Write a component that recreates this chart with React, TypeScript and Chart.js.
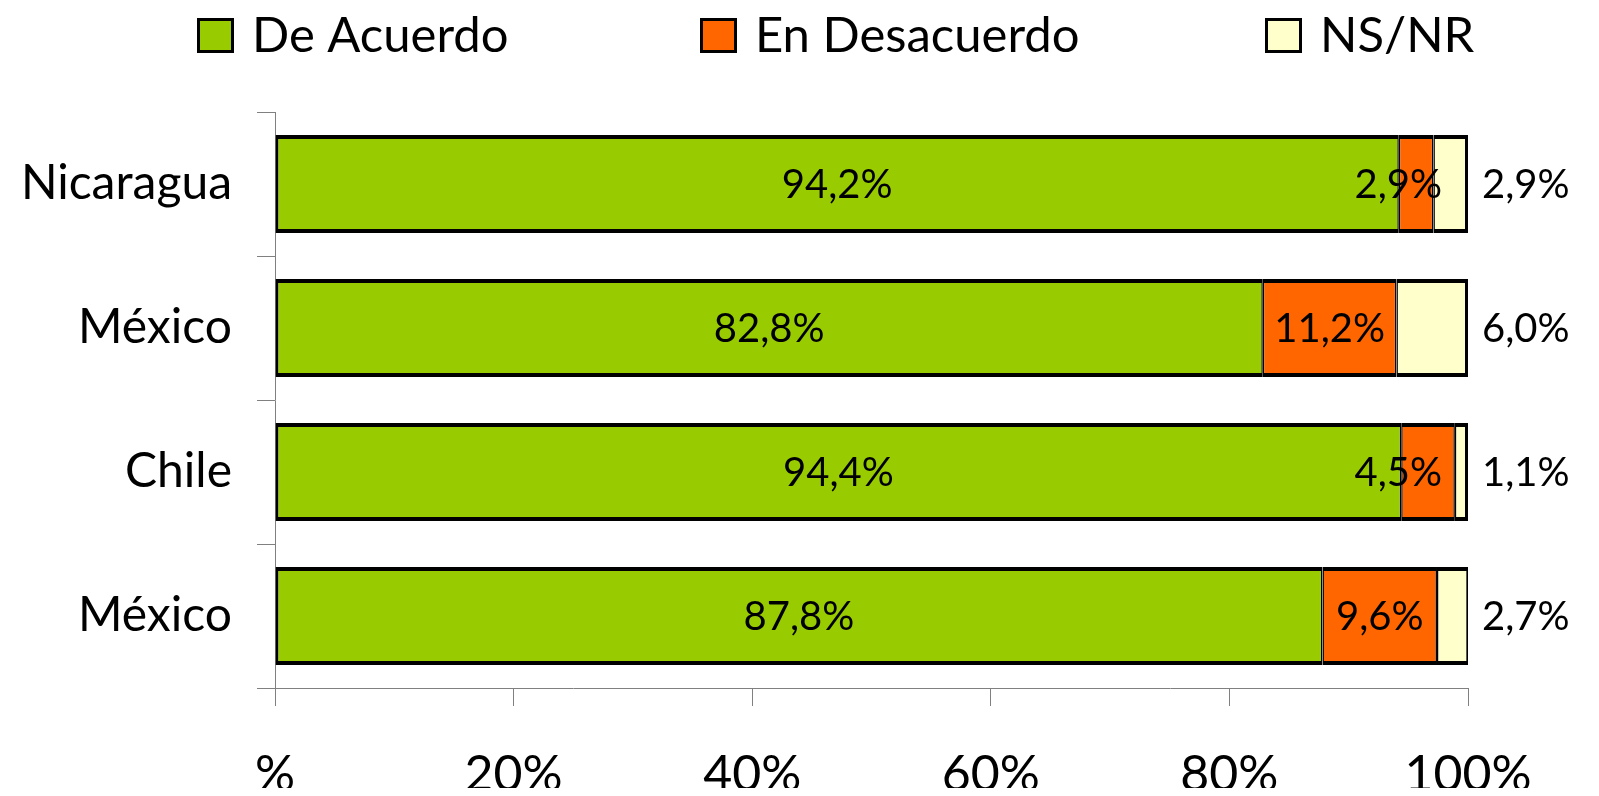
import React, { useEffect, useRef } from 'react';
import { Chart, registerables } from 'chart.js';

Chart.register(...registerables);

const categories = ['Nicaragua', 'México', 'Chile', 'México'];
const deAcuerdo = [94.2, 82.8, 94.4, 87.8];
const enDesacuerdo = [2.9, 11.2, 4.5, 9.6];
const nsnr = [2.9, 6.0, 1.1, 2.7];
const seriesNames = ['De Acuerdo', 'En Desacuerdo', 'NS/NR'];
const seriesColors = ['#99CC00', '#FF6600', '#FFFFCC'];
const xTickValues = [0, 20, 40, 60, 80, 100];
const xTickLabels = ['%', '20%', '40%', '60%', '80%', '100%'];

const FONT = 'Lato, "Open Sans", "DejaVu Sans", sans-serif';
const fmt = (v: number) => v.toFixed(1).replace('.', ',') + '%';

const legendPlugin = {
  id: 'topLegend',
  afterDraw(chart: any) {
    const ctx = chart.ctx;
    ctx.save();
    ctx.font = `49px ${FONT}`;
    const starts = [189, 692, 1257];
    const boxW = 37;
    const boxH = 35;
    const top = 10;
    chart.data.datasets.forEach((ds: any, i: number) => {
      const x = starts[i];
      ctx.fillStyle = ds.backgroundColor;
      ctx.fillRect(x, top, boxW, boxH);
      ctx.lineWidth = 3;
      ctx.strokeStyle = '#000';
      ctx.strokeRect(x + 1.5, top + 1.5, boxW - 3, boxH - 3);
      ctx.fillStyle = '#000';
      ctx.textBaseline = 'middle';
      ctx.textAlign = 'left';
      ctx.fillText(ds.label, x + boxW + 18, top + boxH / 2 + 1);
    });
    ctx.restore();
  },
};

const labelPlugin = {
  id: 'barLabels',
  afterDatasetsDraw(chart: any) {
    const ctx = chart.ctx;
    const area = chart.chartArea;
    ctx.save();
    ctx.font = `40px ${FONT}`;
    ctx.fillStyle = '#000';
    ctx.textBaseline = 'middle';
    chart.data.datasets.forEach((ds: any, di: number) => {
      const meta = chart.getDatasetMeta(di);
      meta.data.forEach((bar: any, i: number) => {
        const { x, y, base } = bar.getProps(['x', 'y', 'base'], true);
        const text = fmt(ds.data[i]);
        if (di === 2) {
          ctx.textAlign = 'left';
          ctx.fillText(text, area.right + 14, y + 1);
        } else {
          ctx.textAlign = 'center';
          const w = ctx.measureText(text).width;
          const cx = Math.min((x + base) / 2, area.right - 26 - w / 2);
          ctx.fillText(text, cx, y + 1);
        }
      });
    });
    ctx.restore();
  },
};

export default function App() {
  const canvasRef = useRef<HTMLCanvasElement | null>(null);

  useEffect(() => {
    if (!canvasRef.current) return;
    const borders = [
      { top: 4, bottom: 4, left: 3, right: 1.5 },
      { top: 4, bottom: 4, left: 1.5, right: 1.5 },
      { top: 4, bottom: 4, left: 1.5, right: 3 },
    ];
    const datasets = [deAcuerdo, enDesacuerdo, nsnr].map((d, i) => ({
      label: seriesNames[i],
      data: d,
      backgroundColor: seriesColors[i],
      borderColor: '#000',
      borderWidth: borders[i],
      borderSkipped: false,
      barPercentage: 0.68,
      categoryPercentage: 1,
    }));
    const chart = new Chart(canvasRef.current, {
      type: 'bar',
      data: { labels: categories, datasets },
      options: {
        indexAxis: 'y',
        animation: false,
        responsive: true,
        maintainAspectRatio: false,
        layout: { padding: { top: 104, right: 123, left: 0, bottom: 0 } },
        plugins: {
          legend: { display: false },
          tooltip: { enabled: false },
        },
        scales: {
          x: {
            stacked: true,
            min: 0,
            max: 100,
            afterBuildTicks: (s: any) => {
              s.ticks = xTickValues.map((v) => ({ value: v }));
            },
            afterFit: (s: any) => {
              s.height = 108;
            },
            ticks: {
              callback: (_v: any, i: number) => xTickLabels[i],
              font: { family: FONT, size: 50 },
              color: '#000',
              padding: 39,
              maxRotation: 0,
              autoSkip: false,
            },
            grid: {
              drawOnChartArea: false,
              drawTicks: true,
              tickLength: 18,
              color: '#808080',
              lineWidth: 1,
            },
            border: { display: true, color: '#808080', width: 1 },
          },
          y: {
            stacked: true,
            afterFit: (s: any) => {
              s.width = 267;
            },
            ticks: {
              font: { family: FONT, size: 48 },
              color: '#000',
              padding: 25,
            },
            grid: {
              drawOnChartArea: false,
              drawTicks: true,
              tickLength: 18,
              color: '#808080',
              lineWidth: 1,
              offset: true,
            },
            border: { display: true, color: '#808080', width: 1 },
          },
        },
      },
      plugins: [labelPlugin, legendPlugin],
    } as any);
    return () => chart.destroy();
  }, []);

  return (
    <div style={{ position: 'relative', width: '100%', height: 788, marginBottom: -8 }}>
      <canvas ref={canvasRef} />
    </div>
  );
}
